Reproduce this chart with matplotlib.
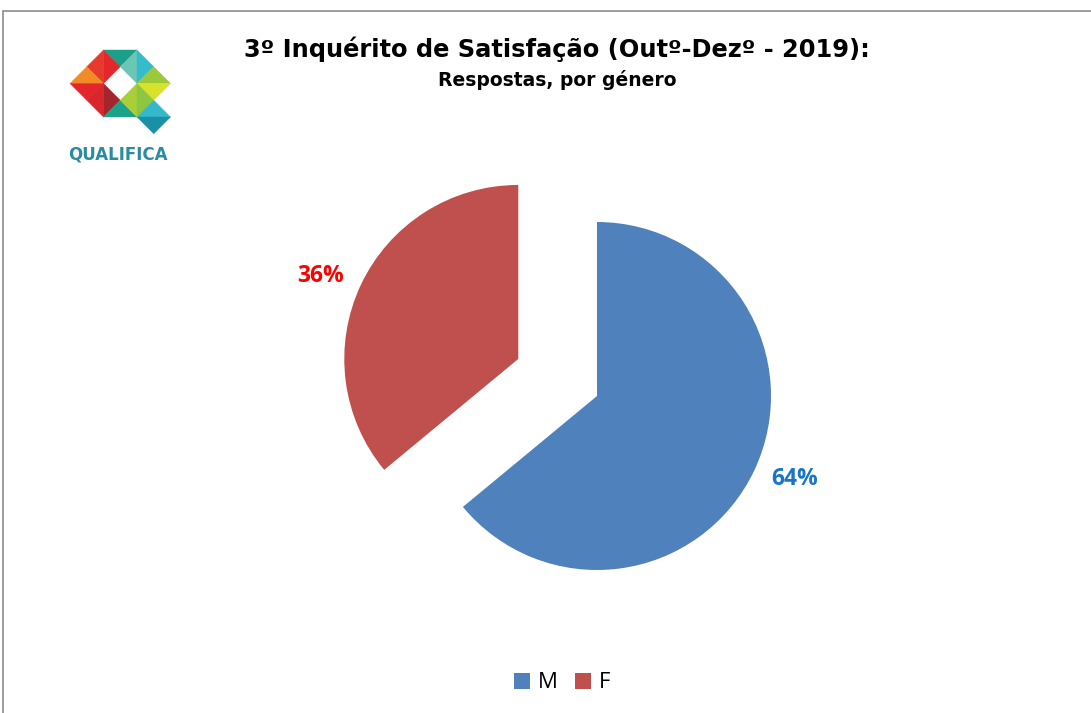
import numpy as np
import matplotlib
matplotlib.use("Agg")
import matplotlib.pyplot as plt
from matplotlib.patches import Polygon, Rectangle

W, H = 1091, 713

TITLE = "3º Inquérito de Satisfação (Outº-Dezº - 2019):"
SUBTITLE = "Respostas, por género"
categories = ["M", "F"]
shares = [64, 36]
explode = [0, 0.5]

BLUE = "#4f81bd"
RED = "#c0504d"
LBL_COLORS = ["#1a75c9", "#ff0000"]
GREY = "#8c8c8c"
TEAL_TXT = "#2a8c9e"

# logo cells: (col, row, {quarter: colour}); each square split by its diagonals
logo_cells = [
    (0, 0, {"r": "#e63b2c", "b": "#f28a28"}),
    (1, 0, {"t": "#1a9f88", "l": "#e2282d", "r": "#6cc6b5"}),
    (2, 0, {"l": "#34bccd", "b": "#9cc93c"}),
    (0, 1, {"t": "#e2262b", "r": "#d8262c"}),
    (1, 1, {"l": "#a3262f", "b": "#1aa388", "r": "#a8cf3a"}),
    (2, 1, {"t": "#d9e22b", "l": "#8dc641", "b": "#36b8cc"}),
    (2, 2, {"t": "#1b8fa6"}),
]


def px(x, y):
    return x / W, 1 - y / H


fig = plt.figure(figsize=(W / 100, H / 100), dpi=100)

# frame
fig.patches.append(Rectangle(px(3, 800), 1200 / W, (800 - 11) / H,
                             transform=fig.transFigure, fill=False,
                             edgecolor=GREY, lw=1.2))

# ---------- logo --------------------------------------------------------------
S, X0, Y0 = 33.5, 70, 50
for col, row, quarters in logo_cells:
    x, y = X0 + col * S, Y0 + row * S
    tl, tr, br, bl = px(x, y), px(x + S, y), px(x + S, y + S), px(x, y + S)
    c = px(x + S / 2, y + S / 2)
    corners = {"t": (tl, tr), "r": (tr, br), "b": (br, bl), "l": (bl, tl)}
    for q, col_ in quarters.items():
        a, b = corners[q]
        fig.patches.append(Polygon([a, b, c], closed=True,
                                   transform=fig.transFigure,
                                   facecolor=col_, edgecolor=col_, lw=0.3))

fig.text(*px(118, 155), "QUALIFICA", ha="center", va="center",
         fontsize=12, fontweight="bold", color=TEAL_TXT, family="DejaVu Sans")

# ---------- titles ------------------------------------------------------------
fig.text(*px(557, 49), TITLE, ha="center", va="center", fontsize=17.4,
         fontweight="bold", family="DejaVu Sans")
fig.text(*px(557, 80), SUBTITLE, ha="center", va="center", fontsize=13.5,
         fontweight="bold", family="DejaVu Sans")

# ---------- pie ---------------------------------------------------------------
R = 174
ax = fig.add_axes([(597 - 1.5 * R) / W, (H - 396 - 1.5 * R) / H,
                   3 * R / W, 3 * R / H])
wedges, _, pcts = ax.pie(shares, explode=explode, colors=[BLUE, RED],
                         startangle=90, counterclock=False,
                         autopct="%1.0f%%", pctdistance=1.23,
                         wedgeprops=dict(linewidth=0))
for w, t, c in zip(wedges, pcts, LBL_COLORS):
    ang = np.deg2rad((w.theta1 + w.theta2) / 2 + 2.5)
    cx, cy = w.center
    t.set_position((cx + 1.23 * np.cos(ang), cy + 1.23 * np.sin(ang)))
    t.set_color(c)
    t.set_fontsize(16.5)
    t.set_fontweight("bold")
    t.set_family("Open Sans")
ax.set_xlim(-1.5, 1.5)
ax.set_ylim(-1.5, 1.5)
ax.axis("off")

fig.legend(wedges, categories, loc="center", bbox_to_anchor=px(562, 683),
           ncol=2, frameon=False, handlelength=0.7, handleheight=0.7,
           handletextpad=0.35, columnspacing=0.8,
           prop=dict(family="Open Sans", size=16))

fig.savefig("out.png", dpi=100)
